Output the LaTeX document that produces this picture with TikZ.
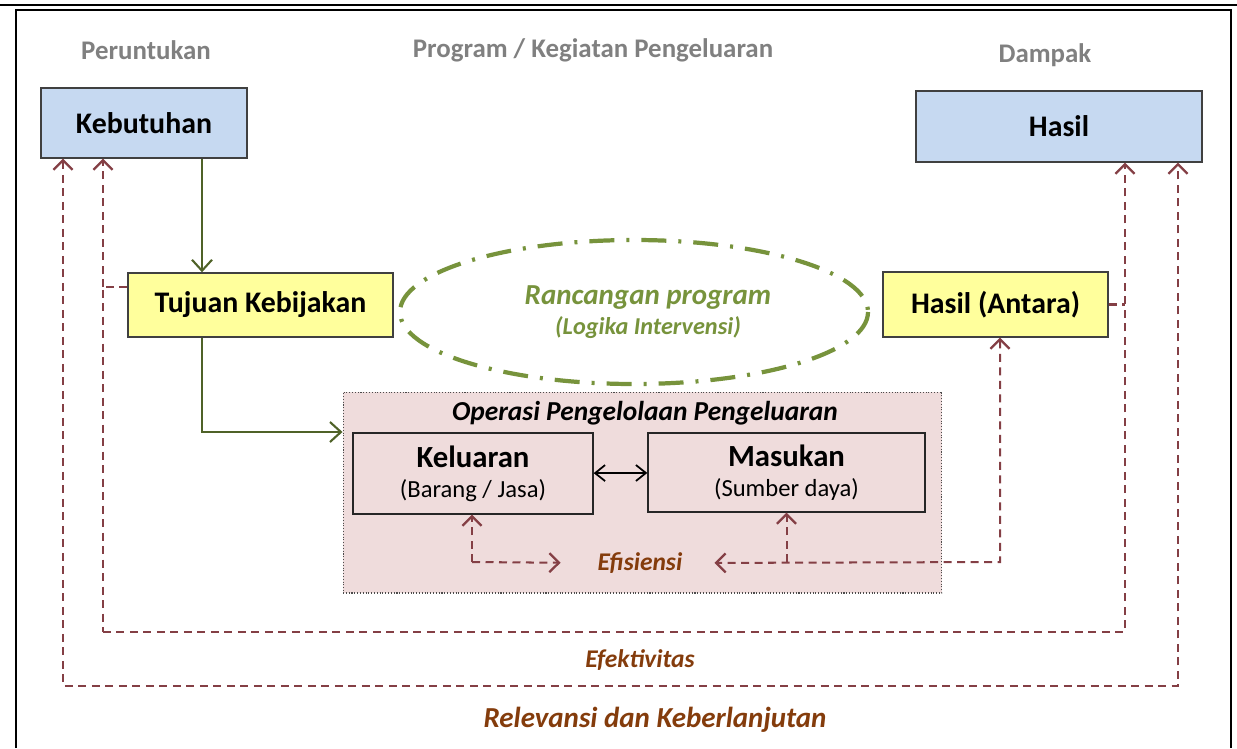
\documentclass[tikz,border=0pt]{standalone}
\usepackage{fontspec}
\setmainfont{Carlito}
\usetikzlibrary{arrows.meta, positioning, calc}
\definecolor{boxblue}{HTML}{C6D9F1}
\definecolor{boxyellow}{HTML}{FFFF9C}
\definecolor{boxpink}{HTML}{EFDCDC}
\definecolor{dashbrown}{HTML}{843F45}
\definecolor{textbrown}{HTML}{843C0C}
\definecolor{olivegreen}{HTML}{77933C}
\definecolor{darkolive}{HTML}{4F6228}
\definecolor{headgray}{HTML}{808080}
\tikzset{
    box_blue/.style={
        rectangle, draw=black!75, line width=0.8pt, fill=boxblue,
        align=center, font=\bfseries\fontsize{17}{20}\selectfont
    },
    box_yellow/.style={
        rectangle, draw=black!75, line width=0.8pt, fill=boxyellow,
        align=center, font=\bfseries\fontsize{17}{20}\selectfont
    },
    box_white/.style={
        rectangle, draw=black!85, line width=0.8pt, fill=boxpink,
        align=center, font=\fontsize{14}{17}\selectfont
    },
    ops_frame/.style={
        rectangle, draw=black!70, densely dotted, line width=0.6pt, fill=boxpink
    },
    head_lbl/.style={
        font=\bfseries\fontsize{15.3}{18}\selectfont, text=headgray
    },
    crit_lbl/.style={
        font=\bfseries\itshape\fontsize{14.5}{17}\selectfont, text=textbrown
    },
    green_arrow/.style={
        -{Straight Barb[length=2.2mm, width=4mm, line width=1.2pt]}, draw=darkolive, line width=1.1pt
    },
    crit_arrow/.style={
        draw=dashbrown, line width=1.15pt, dash pattern=on 1.6mm off 1.1mm
    },
    crit_tip/.style={
        -{Straight Barb[length=1.9mm, width=3.8mm, line width=1.3pt]}
    },
    crit_tips/.style={
        {Straight Barb[length=1.9mm, width=3.8mm, line width=1.3pt]}-{Straight Barb[length=1.9mm, width=3.8mm, line width=1.3pt]}
    }
}

\begin{document}
\begin{tikzpicture}[x=0.02cm, y=-0.02cm, >=Stealth]
    \useasboundingbox (0,0) rectangle (1237,748);
    % Frame
    \draw[line width=1.4pt] (0,5) -- (1237,5);
    \draw[line width=1.4pt] (16,748) -- (16,10) -- (1231,10) -- (1231,748);

    % Headers
    \node[head_lbl] (hd1) at (146,50) {Peruntukan};
    \node[head_lbl] (hd2) at (593,50) {Program / Kegiatan Pengeluaran};
    \node[head_lbl] (hd3) at (1045,55) {Dampak};

    % Top Row
    \node[box_blue, minimum width=4.12cm, minimum height=1.4cm] (kebutuhan) at (144,123) {Kebutuhan};
    \node[box_blue, minimum width=5.72cm, minimum height=1.42cm] (hasil) at (1059,126.5) {Hasil};

    % Middle Row
    \node[box_yellow, minimum width=5.3cm, minimum height=1.28cm] (tujuan) at (260.5,305) {Tujuan Kebijakan};
    \node[box_yellow, minimum width=4.5cm, minimum height=1.3cm] (antara) at (995.5,304.5) {Hasil (Antara)};
    \draw[olivegreen, line width=2.4pt, dash pattern=on 5mm off 2.4mm on 0.6mm off 2.4mm]
        (634,312) ellipse [x radius=234, y radius=72];
    \node[font=\bfseries\itshape\fontsize{16.5}{20}\selectfont, text=olivegreen] (rancangan) at (648,298) {Rancangan program};
    \node[font=\bfseries\itshape\fontsize{13.8}{16}\selectfont, text=olivegreen] (logika) at (648,328) {(Logika Intervensi)};

    % Operations
    \node[ops_frame, minimum width=11.98cm, minimum height=4.02cm] (ops) at (642.5,492.5) {};
    \node[font=\bfseries\itshape\fontsize{15.6}{18}\selectfont] (opslbl) at (645,413) {Operasi Pengelolaan Pengeluaran};
    \node[box_white, minimum width=4.8cm, minimum height=1.62cm] (keluaran) at (473,473.5)
        {{\bfseries\fontsize{17.5}{21}\selectfont Keluaran}\\(Barang / Jasa)};
    \node[box_white, minimum width=5.54cm, minimum height=1.58cm] (masukan) at (786.5,472.5)
        {{\bfseries\fontsize{17.5}{21}\selectfont Masukan}\\(Sumber daya)};
    \draw[{Straight Barb[length=2mm, width=3.2mm]}-{Straight Barb[length=2mm, width=3.2mm]}, line width=1pt]
        (keluaran) -- (masukan);

    % Criteria labels
    \node[crit_lbl] (efis) at (640,563) {Efisiensi};
    \node[crit_lbl] (efek) at (640,660) {Efektivitas};
    \node[crit_lbl, font=\bfseries\itshape\fontsize{16.5}{20}\selectfont] (rele) at (655,720) {Relevansi dan Keberlanjutan};

    % Corner points
    \coordinate (gB) at (202,432);
    \coordinate (efiL) at (472,562);
    \coordinate (efiR) at (1000,562);
    \coordinate (efL) at (103,287);
    \coordinate (efB) at (103,632);
    \coordinate (efR) at (1125,632);
    \coordinate (relL) at (63,686);
    \coordinate (relR) at (1178,686);

    % Green connectors
    \draw[green_arrow] (kebutuhan.south -| gB) -- (tujuan.north -| gB);
    \draw[green_arrow] (tujuan.south -| gB) -- (gB) -- (ops.west |- gB);

    % Efisiensi
    \draw[crit_arrow, crit_tip] (efiL) -- (keluaran.south -| efiL);
    \draw[crit_arrow, crit_tip, shorten >=0.62cm] (efiL) -- (efis.west);
    \draw[crit_arrow, crit_tip] (efiR -| masukan.south) -- (masukan.south);
    \draw[crit_arrow, crit_tips, shorten >=0.52cm]
        (antara.south -| efiR) -- (efiR) -- (efis.east);

    % Efektivitas
    \draw[crit_arrow, crit_tip] (efL) -- (kebutuhan.south -| efL);
    \draw[crit_arrow] (tujuan.west |- efL) -- (efL) -- (efB);
    \draw[crit_arrow, crit_tip] (efB) -- (efR) -- (hasil.south -| efR);
    \draw[crit_arrow] (antara.east) -- (antara.east -| efR);

    % Relevansi dan Keberlanjutan
    \draw[crit_arrow, crit_tips]
        (kebutuhan.south -| relL) -- (relL) -- (relR) -- (hasil.south -| relR);
\end{tikzpicture}
\end{document}
